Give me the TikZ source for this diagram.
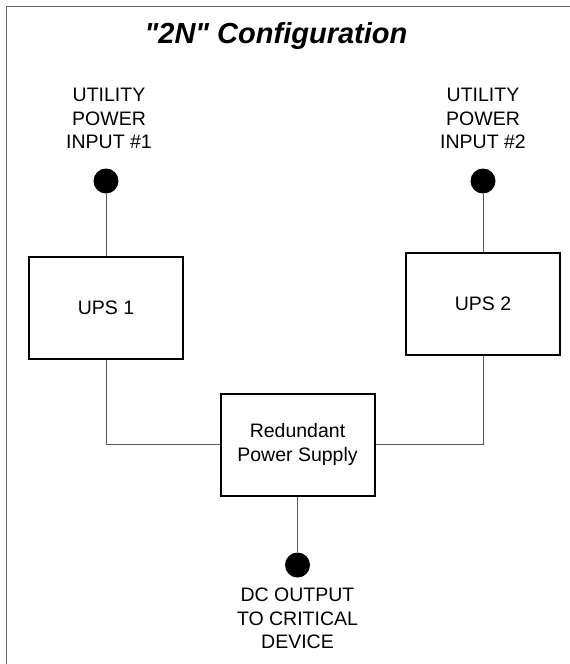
\documentclass[tikz,border=0pt]{standalone}
\usepackage{fontspec}
\setmainfont{Liberation Sans}
\newfontfamily\headfont{Liberation Sans}

\begin{document}
\begin{tikzpicture}[x=1pt,y=-1pt,
unit/.style={draw,line width=2pt,minimum width=154pt,minimum height=102pt,font=\fontsize{19.5}{23.5}\selectfont,align=center,inner sep=0pt},
dot/.style={circle,fill=black,minimum size=25pt,inner sep=0pt},
lbl/.style={font=\fontsize{19.5}{23.5}\selectfont,align=center,inner sep=0pt,anchor=north},
wire/.style={line width=0.8pt,draw=black!65}]

\useasboundingbox (0,0) rectangle (570,664);

\draw[line width=1.8pt,black!60] (6.5,664) -- (6.5,6.5) -- (570,6.5);

\node[font=\headfont\fontsize{29}{34}\selectfont\bfseries\itshape,anchor=base] (title) at (276,43) {"2N" Configuration};

\node[lbl] (in1lbl) at (109,88) {UTILITY\\POWER\\INPUT \#1};

\node[dot] (in1) at (106,181) {};

\node[unit] (ups1) at (106,307.5) {UPS 1};

\node[lbl] (in2lbl) at (483,88) {UTILITY\\POWER\\INPUT \#2};

\node[dot] (in2) at (483,181) {};

\node[unit] (ups2) at (483,304) {UPS 2};

\node[unit] (rps) at (297.5,444.5) {Redundant\\Power Supply};

\node[dot] (out) at (297.5,565) {};

\node[lbl] (outlbl) at (297.5,588) {DC OUTPUT\\TO CRITICAL\\DEVICE};


\draw[wire] (in1) -- (ups1);

\draw[wire] (in2) -- (ups2);

\draw[wire] (ups1) |- (rps);

\draw[wire] (ups2) |- (rps);

\draw[wire] (rps) -- (out);


\end{tikzpicture}
\end{document}
